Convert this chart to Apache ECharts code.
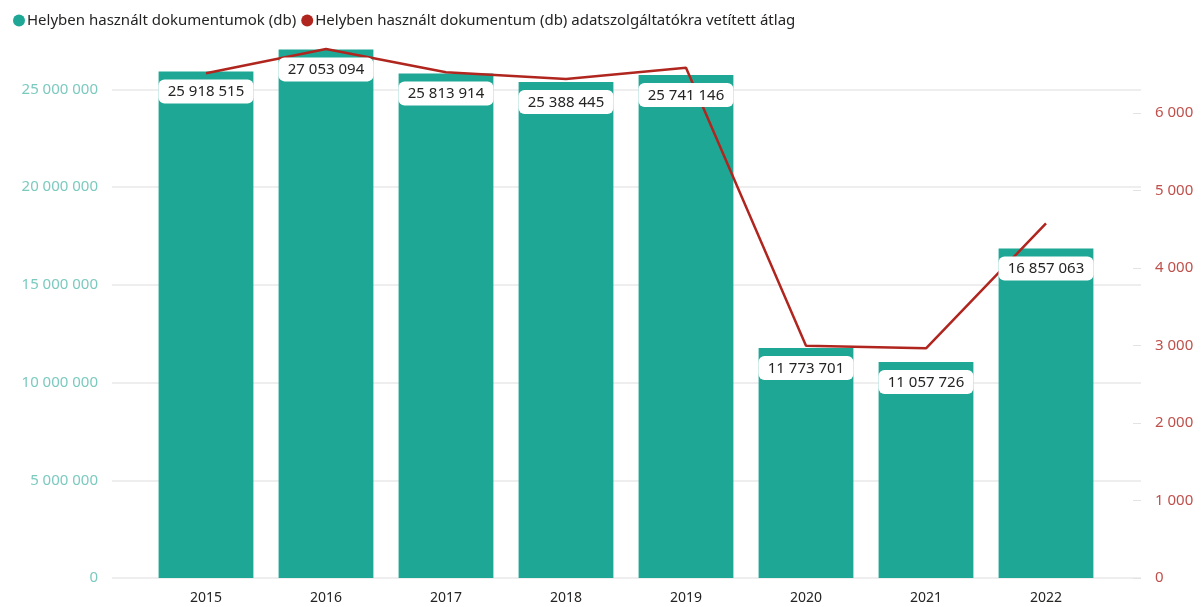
<!DOCTYPE html>
<html>
<head>
<meta charset="utf-8">
<script src="https://cdn.jsdelivr.net/npm/echarts@6/dist/echarts.min.js"></script>
<style>
    html, body { margin: 0; padding: 0; background: #fff; }
    #chart { width: 1203px; height: 607px; }
</style>
</head>
<body>
<div id="chart"></div>
<script>
    var years = ['2015', '2016', '2017', '2018', '2019', '2020', '2021', '2022'];
    var docs = [25918515, 27053094, 25813914, 25388445, 25741146, 11773701, 11057726, 16857063];
    var avgPerProvider = [6512, 6826, 6525, 6439, 6585, 2997, 2964, 4577];
    var docsName = 'Helyben használt dokumentumok (db)';
    var avgName = 'Helyben használt dokumentum (db) adatszolgáltatókra vetített átlag';

    var teal = '#1fa796';
    var red = '#b0261f';
    var font = '"Segoe UI", "Noto Sans", sans-serif';

    function fmt(v) {
        return String(v).replace(/\B(?=(\d{3})+(?!\d))/g, ' ');
    }

    var myChart = echarts.init(document.getElementById('chart'));
    var option = {
        animation: false,
        textStyle: { fontFamily: font },
        legend: {
            left: 8,
            top: 8,
            itemWidth: 12,
            itemHeight: 12,
            itemGap: 5,
            icon: 'circle',
            textStyle: { fontSize: 15, color: '#252423', padding: [0, 0, 0, -3] },
            data: [docsName, avgName]
        },
        grid: [
            // gridlines + left labels (top = 25 000 000)
            { left: 112, right: 62, top: 89.5, bottom: 29 },
            // bars and line
            { left: 146, right: 97, top: 0, bottom: 29 },
            // right labels (top = 6 000)
            { left: 112, right: 62, top: 113, bottom: 29 }
        ],
        xAxis: [
            { gridIndex: 0, type: 'category', data: years, show: false },
            {
                gridIndex: 1,
                type: 'category',
                data: years,
                axisLine: { show: false },
                axisTick: { show: false },
                axisLabel: { color: '#252423', fontSize: 14, margin: 13 }
            },
            { gridIndex: 2, type: 'category', data: years, show: false }
        ],
        yAxis: [
            {
                gridIndex: 0,
                type: 'value',
                min: 0,
                max: 25000000,
                interval: 5000000,
                axisLine: { show: false },
                axisTick: { show: false },
                axisLabel: { color: '#7ccabf', fontSize: 15, margin: 14, formatter: fmt },
                splitLine: { show: true, lineStyle: { color: '#eeeeee', width: 2 } }
            },
            { gridIndex: 1, type: 'value', min: 0, max: 29580000, show: false },
            { gridIndex: 1, type: 'value', min: 0, max: 7458, show: false },
            {
                gridIndex: 2,
                type: 'value',
                position: 'right',
                min: 0,
                max: 6000,
                interval: 1000,
                axisLine: { show: false },
                axisTick: { show: true, inside: true, length: 8, lineStyle: { color: '#e3e3e3', width: 1 } },
                axisLabel: { color: '#c0504b', fontSize: 15, margin: 14, formatter: fmt },
                splitLine: { show: false }
            }
        ],
        series: [
            {
                name: docsName,
                type: 'bar',
                xAxisIndex: 1,
                yAxisIndex: 1,
                data: docs,
                barCategoryGap: '21%',
                itemStyle: { color: teal },
                z: 2
            },
            {
                name: avgName,
                type: 'line',
                xAxisIndex: 1,
                yAxisIndex: 2,
                data: avgPerProvider,
                symbol: 'none',
                z: 3,
                itemStyle: { color: red },
                lineStyle: { color: red, width: 2.5 }
            },
            {
                // value labels drawn above the line
                name: 'labels',
                type: 'bar',
                xAxisIndex: 1,
                yAxisIndex: 1,
                data: docs,
                barGap: '-100%',
                barCategoryGap: '21%',
                itemStyle: { color: 'transparent' },
                z: 4,
                silent: true,
                label: {
                    show: true,
                    position: 'insideTop',
                    distance: 8,
                    formatter: function (p) { return fmt(p.value); },
                    color: '#252423',
                    fontSize: 15,
                    lineHeight: 17,
                    backgroundColor: '#fff',
                    borderRadius: 6,
                    width: 89,
                    align: 'center',
                    padding: [4, 3, 3, 3]
                }
            }
        ]
    };
    myChart.setOption(option);
</script>
</body>
</html>
